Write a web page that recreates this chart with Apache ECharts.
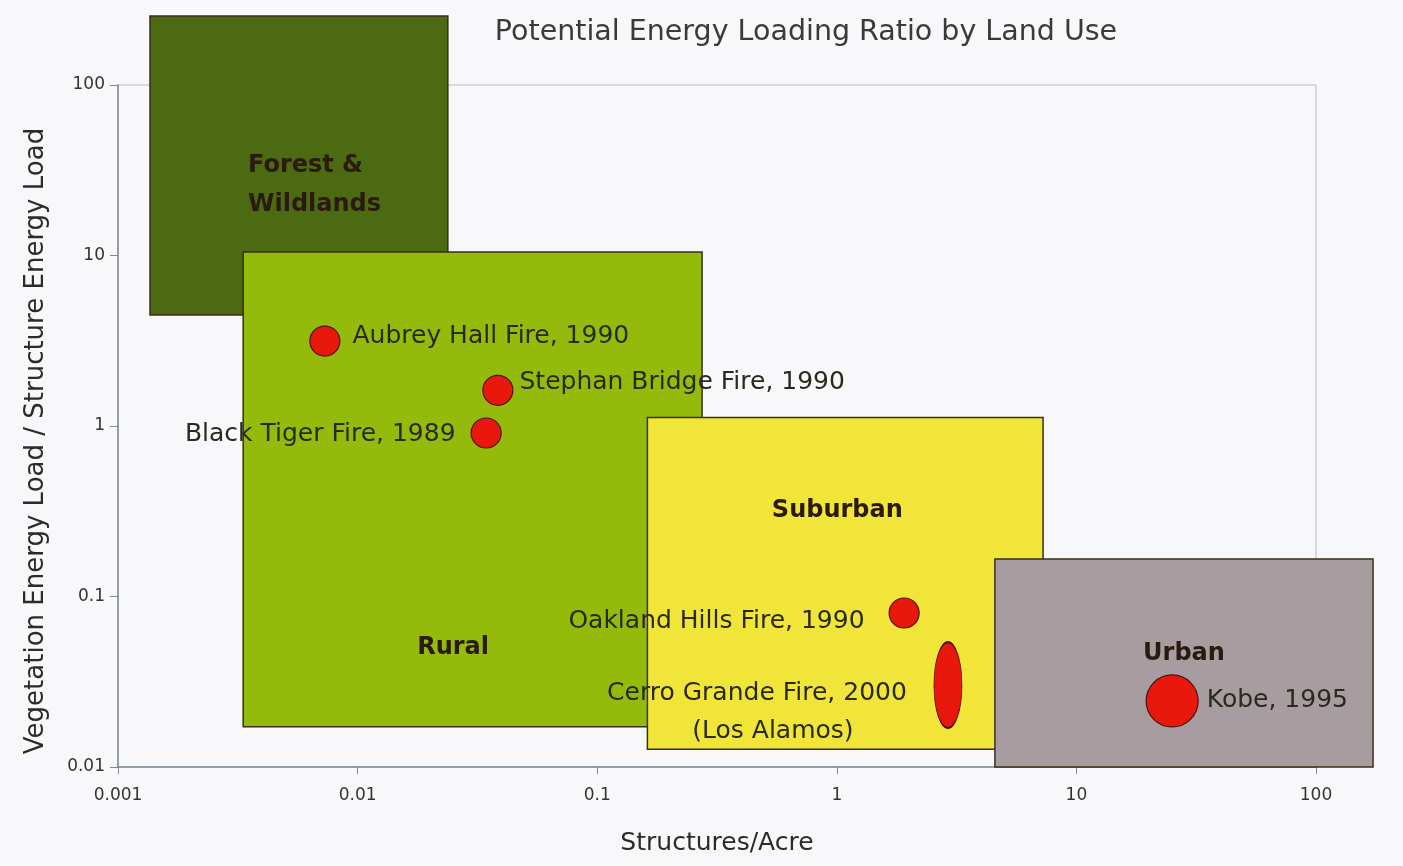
<!DOCTYPE html>
<html><head><meta charset="utf-8">
<script src="https://cdn.jsdelivr.net/npm/echarts@6/dist/echarts.min.js"></script>
<style>html,body{margin:0;padding:0;background:#f8f8fb;}#c{width:1403px;height:866px;}</style>
</head><body><div id="c"></div>
<script>
// ---- data ----
const zoneNames = ['Forest &\nWildlands', 'Rural', 'Suburban', 'Urban'];
const zoneXMin = [0.00136, 0.00333, 0.162, 4.57];
const zoneXMax = [0.0238, 0.274, 7.26, 173];
const zoneYMin = [4.48, 0.0172, 0.0127, 0.01];
const zoneYMax = [254, 10.5, 1.12, 0.166];

const fireNames = ['Aubrey Hall Fire, 1990', 'Stephan Bridge Fire, 1990', 'Black Tiger Fire, 1989',
  'Oakland Hills Fire, 1990', 'Cerro Grande Fire, 2000', 'Kobe, 1995'];
const fireNotes = ['', '', '', '', '(Los Alamos)', ''];
const fireX = [0.0073, 0.0385, 0.0344, 1.91, 2.91, 25.1];
const fireY = [3.15, 1.62, 0.91, 0.080, 0.0302, 0.0244];

const xTickLabels = ['0.001', '0.01', '0.1', '1', '10', '100'];
const yTickLabels = ['0.01', '0.1', '1', '10', '100'];

// ---- styles ----
const FONT = '"DejaVu Sans", Verdana, sans-serif';
const TXT = '#2a2a1c';
const zoneColors = ['#4b6a11', '#94bb0b', '#f1e53a', '#a79ca0'];
const zoneLabelStyle = [
  {fx: 0.329, fy: 0.567, align: 'left'},
  {fx: 0.4575, fy: 0.834, align: 'center'},
  {fx: 0.48, fy: 0.28, align: 'center'},
  {fx: 0.50, fy: 0.457, align: 'center'}
];
const fireSymbolSize = [[30,30],[30,30],[30,30],[30,30],[28,86],[52,52]];
const fireLabelStyle = [
  {position: 'right', distance: 12, offset: [0, -5]},
  {position: 'right', distance: 6, offset: [0, -8]},
  {position: 'left', distance: 15, offset: [0, 2]},
  {position: 'left', distance: 24, offset: [0, 8]},
  {position: 'inside', align: 'center', offset: [-191, 27]},
  {position: 'right', distance: 8, offset: [0, 0]}
];

const zoneData = zoneNames.map((n, i) => [zoneXMin[i], zoneYMin[i], zoneXMax[i], zoneYMax[i], i]);
const fireData = fireNames.map((n, i) => ({
  name: n,
  value: [fireX[i], fireY[i]],
  symbolSize: fireSymbolSize[i],
  label: Object.assign({
    show: true,
    formatter: fireNotes[i] ? '{a|' + n + '}\n{b|' + fireNotes[i] + '}' : n
  }, fireLabelStyle[i])
}));

const chart = echarts.init(document.getElementById('c'), null, {renderer: 'canvas'});
chart.setOption({
  backgroundColor: '#f8f8fb',
  animation: false,
  title: {
    text: 'Potential Energy Loading Ratio by Land Use',
    left: 801, top: 13, textAlign: 'center',
    textStyle: {fontFamily: FONT, fontSize: 28.5, fontWeight: 'normal', color: '#3a3a3a'}
  },
  grid: {left: 118, right: 87, top: 85, bottom: 99, show: true, borderColor: '#b3bec7', borderWidth: 1, backgroundColor: 'transparent'},
  xAxis: {
    type: 'log', logBase: 10, min: 0.001, max: 100,
    name: 'Structures/Acre', nameLocation: 'middle', nameGap: 64,
    nameTextStyle: {fontFamily: FONT, fontSize: 25, color: '#2b2b2b'},
    axisLine: {show: true, lineStyle: {color: '#7d8a96', width: 1.5}},
    axisTick: {show: true, inside: false, length: 7, lineStyle: {color: '#7d8a96'}},
    axisLabel: {fontFamily: FONT, fontSize: 17, color: '#333', margin: 20,
      formatter: (v, i) => xTickLabels[i]},
    splitLine: {show: false}, minorTick: {show: false}
  },
  yAxis: {
    type: 'log', logBase: 10, min: 0.01, max: 100,
    name: 'Vegetation Energy Load / Structure Energy Load', nameLocation: 'middle', nameGap: 69,
    nameTextStyle: {fontFamily: FONT, fontSize: 26, color: '#2b2b2b', padding: [0, 30, 0, 0]},
    axisLine: {show: true, lineStyle: {color: '#7d8a96', width: 1.5}},
    axisTick: {show: true, inside: false, length: 8, lineStyle: {color: '#7d8a96'}},
    axisLabel: {fontFamily: FONT, fontSize: 17, color: '#333', margin: 13,
      formatter: (v, i) => yTickLabels[i]},
    splitLine: {show: false}, minorTick: {show: false}
  },
  series: [
    {
      type: 'custom',
      clip: false,
      z: 1,
      data: zoneData,
      encode: {x: [0, 2], y: [1, 3]},
      renderItem: function (params, api) {
        const i = api.value(4);
        const p0 = api.coord([api.value(0), api.value(3)]);
        const p1 = api.coord([api.value(2), api.value(1)]);
        const w = p1[0] - p0[0], h = p1[1] - p0[1];
        const ls = zoneLabelStyle[i];
        return {
          type: 'group',
          children: [
            {type: 'rect', shape: {x: p0[0], y: p0[1], width: w, height: h},
              style: {fill: zoneColors[i], stroke: '#3a2e1a', lineWidth: 1.5}},
            {type: 'text', x: p0[0] + w * ls.fx, y: p0[1] + h * ls.fy,
              style: {text: zoneNames[i], fill: '#2a1a10', font: 'bold 24px ' + FONT,
                align: ls.align, verticalAlign: 'middle', lineHeight: 39}}
          ]
        };
      }
    },
    {
      type: 'scatter',
      z: 5,
      symbol: 'circle',
      data: fireData,
      itemStyle: {color: '#e8180c', borderColor: '#4a1208', borderWidth: 1.2, opacity: 1},
      label: {fontFamily: FONT, fontSize: 25, color: TXT, lineHeight: 38,
        rich: {a: {fontFamily: FONT, fontSize: 25, color: TXT, lineHeight: 38},
               b: {fontFamily: FONT, fontSize: 25, color: TXT, lineHeight: 38, padding: [0, 0, 0, 32]}}},
      emphasis: {disabled: true}
    }
  ]
});
</script></body></html>
